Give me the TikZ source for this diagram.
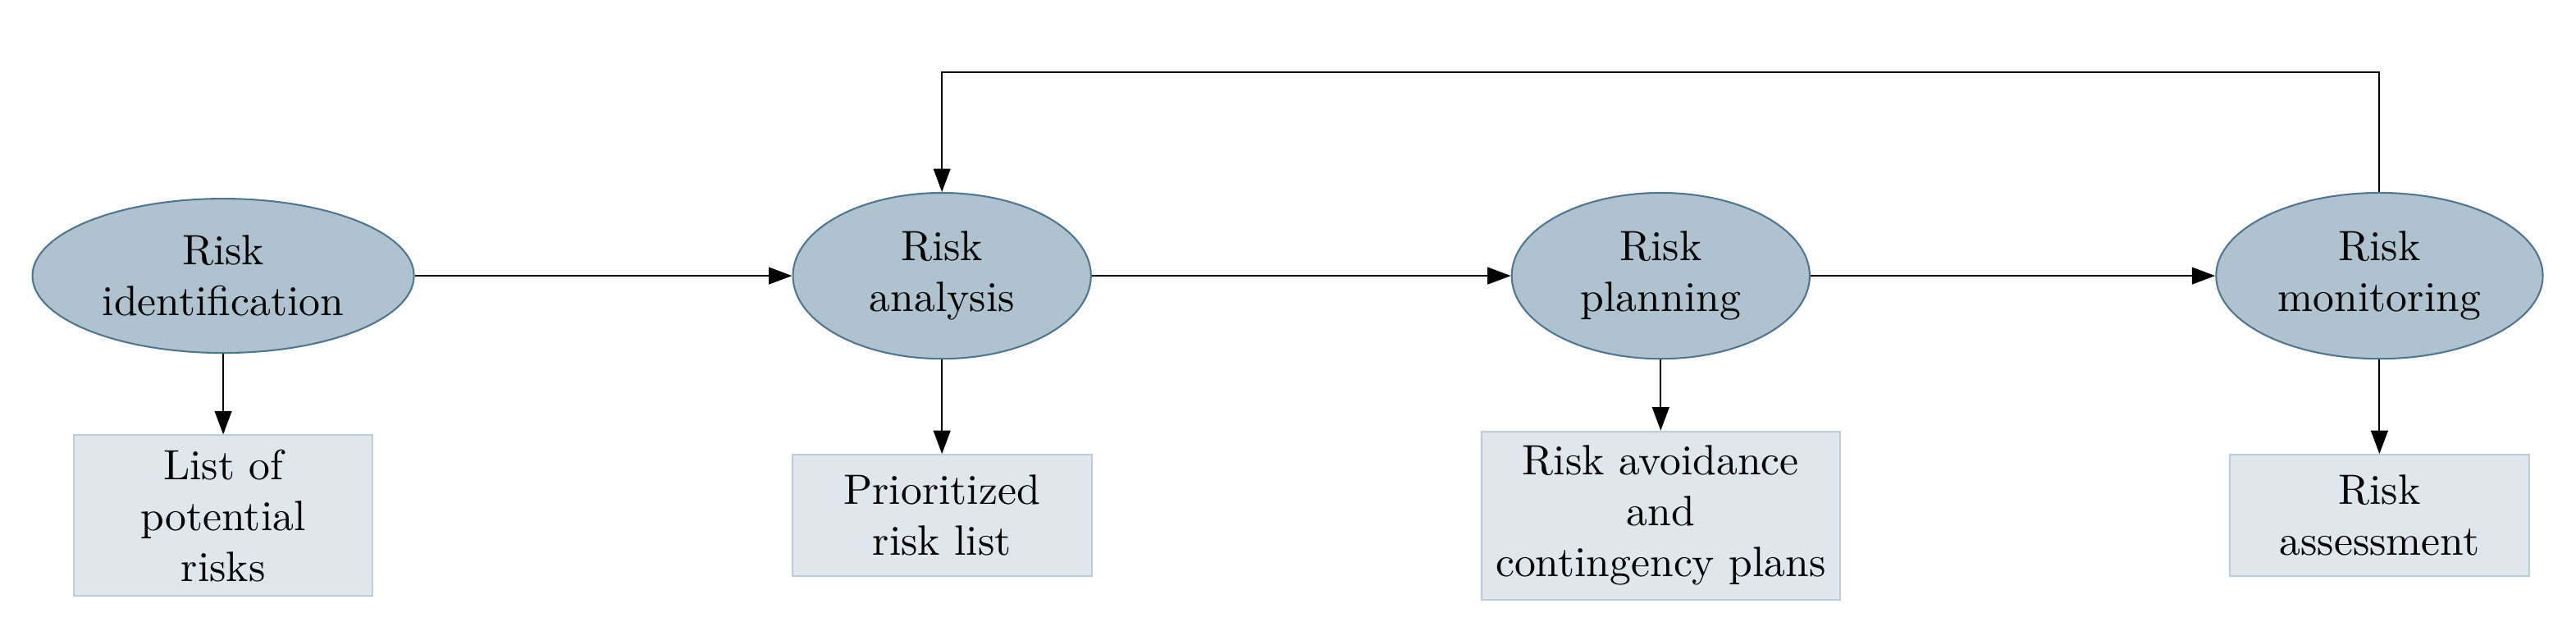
\documentclass[tikz,border=0pt]{standalone}
\usepackage{xcolor}
\usepackage{tikz}
\usetikzlibrary{arrows.meta,positioning,shapes.geometric}
\definecolor{stageblue}{HTML}{AEC2D0}
\definecolor{stageedge}{HTML}{50758F}
\definecolor{outfill}{HTML}{DFE6EC}
\definecolor{outedge}{HTML}{BCCCD8}

\begin{document}
\begin{tikzpicture}[
    node distance=5.957cm, on grid,
    stage/.style={ellipse,draw=stageedge,fill=stageblue,align=center,minimum width=2.47cm,minimum height=1.37cm},
    output/.style={draw=outedge,fill=outfill,align=center,minimum width=2.48cm,minimum height=1.006cm},
    arrow/.style={-{Triangle[length=5.5pt,width=4pt]}}
  ]
    \useasboundingbox (-1.85,2.285) rectangle (19.50,-2.978);
    % process stages
    \node[stage,minimum height=1.265cm] (ident) at (0,0) {Risk\\identification};
    \node[stage,right=of ident] (analysis) {Risk\\analysis};
    \node[stage,right=of analysis] (planning) {Risk\\planning};
    \node[stage,right=of planning] (monitor) {Risk\\monitoring};
    % outputs
    \node[output,below=1.986cm of ident] (potential) {List of\\potential\\risks};
    \node[output,below=1.986cm of analysis] (priority) {Prioritized\\risk list};
    \node[output,below=1.986cm of planning] (plans) {Risk avoidance\\and\\contingency plans};
    \node[output,below=1.986cm of monitor] (assess) {Risk\\assessment};
    \coordinate (loop) at (0,1.686);
    \draw[arrow] (ident) -- (analysis);
    \draw[arrow] (analysis) -- (planning);
    \draw[arrow] (planning) -- (monitor);
    \draw[arrow] (ident) -- (potential);
    \draw[arrow] (analysis) -- (priority);
    \draw[arrow] (planning) -- (plans);
    \draw[arrow] (monitor) -- (assess);
    \draw[arrow] (monitor.north) -- (monitor.north |- loop) -| (analysis.north);
\end{tikzpicture}
\end{document}
